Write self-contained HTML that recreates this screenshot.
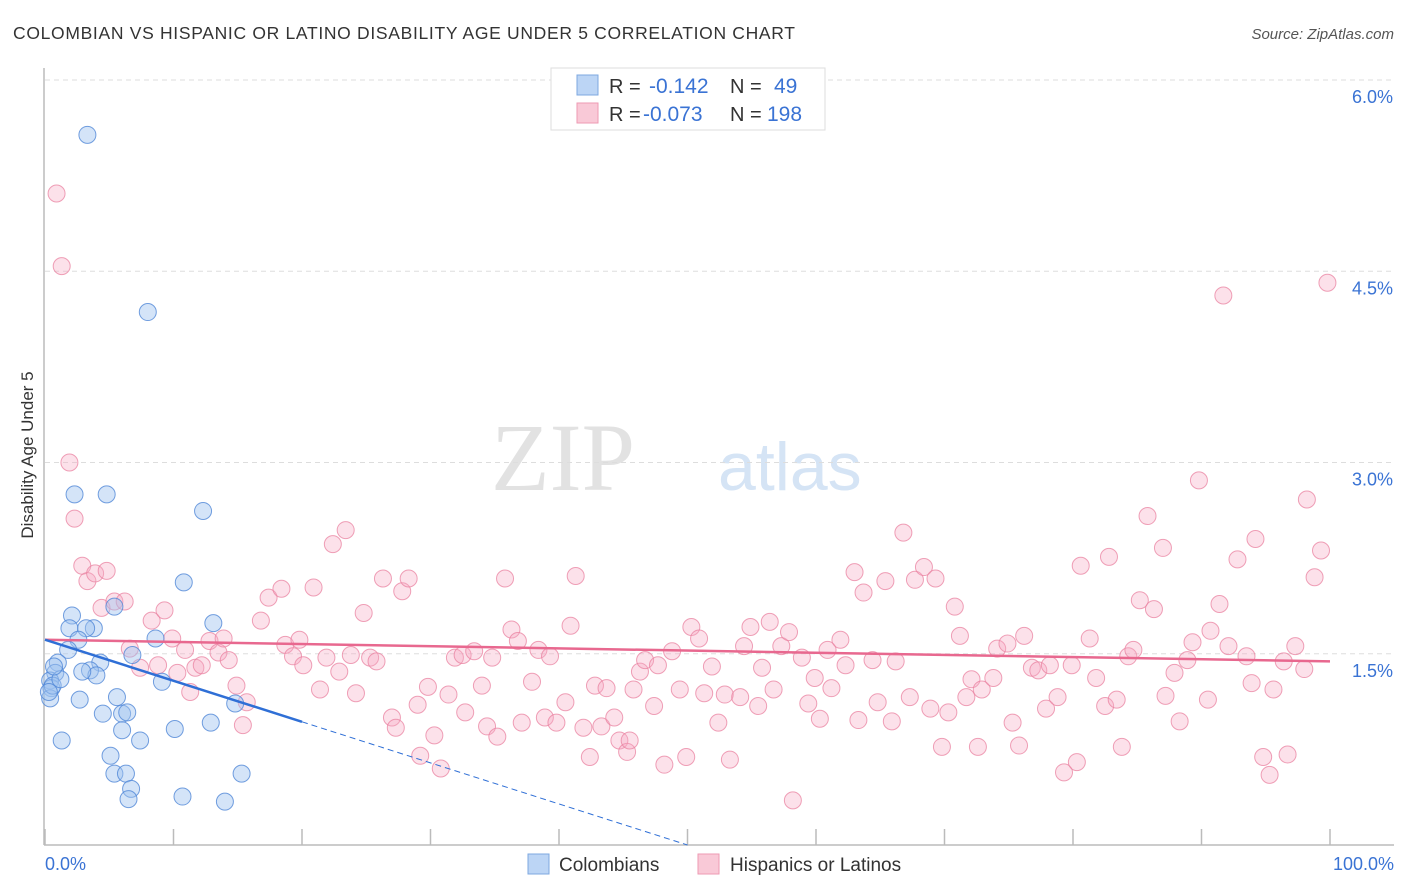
<!DOCTYPE html>
<html><head><meta charset="utf-8"><style>
body{margin:0;background:#fff;font-family:"Liberation Sans",sans-serif;}
svg{display:block}
</style></head><body>
<svg id="chart" width="1406" height="892" xmlns="http://www.w3.org/2000/svg" font-family="Liberation Sans, sans-serif">
<text x="13" y="39" font-size="17.5" fill="#333" textLength="782">COLOMBIAN VS HISPANIC OR LATINO DISABILITY AGE UNDER 5 CORRELATION CHART</text>
<text x="1394" y="39" font-size="15" fill="#555" font-style="italic" text-anchor="end">Source: ZipAtlas.com</text>
<g>
<text x="635" y="490" font-size="96" font-family="Liberation Serif, serif" fill="#e2e2e2" text-anchor="end">ZIP</text>
<text x="718" y="490" font-size="68" fill="#d5e4f5">atlas</text>
</g>
<g id="grid"></g>
<g id="axes"></g>
<g id="pink"></g>
<g id="blue"></g>
<g id="trends"></g>
<text transform="translate(33,455) rotate(-90)" font-size="17" fill="#333" text-anchor="middle">Disability Age Under 5</text>
<g>
<rect x="551" y="68" width="274" height="62" fill="#fff" stroke="#ddd"/>
<rect x="577" y="75" width="21" height="20" fill="#bcd5f5" stroke="#7ea8e0"/>
<rect x="577" y="103" width="21" height="20" fill="#f9c9d7" stroke="#ee9ab3"/>
<text x="609" y="93" font-size="20" fill="#333">R = </text><text x="649" y="93" font-size="21" fill="#3a73d4">-0.142</text>
<text x="730" y="93" font-size="20" fill="#333">N = </text><text x="774" y="93" font-size="21" fill="#3a73d4">49</text>
<text x="609" y="121" font-size="20" fill="#333">R = </text><text x="643" y="121" font-size="21" fill="#3a73d4">-0.073</text>
<text x="730" y="121" font-size="20" fill="#333">N = </text><text x="767" y="121" font-size="21" fill="#3a73d4">198</text>
</g>
<g>
<rect x="528" y="854" width="21" height="20" fill="#bcd5f5" stroke="#7ea8e0"/>
<text x="559" y="871" font-size="19" fill="#333">Colombians</text>
<rect x="698" y="854" width="21" height="20" fill="#f9c9d7" stroke="#ee9ab3"/>
<text x="730" y="871" font-size="19" fill="#333">Hispanics or Latinos</text>
</g>
</svg>
<script>
const yTicks=[1.5,3.0,4.5,6.0];
const yTickLabels=["1.5%","3.0%","4.5%","6.0%"];
const xTickLabels=["0.0%","100.0%"];
const blueX=[3.3,8.0,2.3,4.8,12.3,10.8,2.1,5.4,3.8,13.1,1.9,3.2,8.6,2.6,1.8,6.8,1.0,4.3,0.8,3.5,4.0,2.9,9.1,0.4,0.5,0.4,2.7,5.6,14.8,4.5,6.0,6.4,6.0,10.1,12.9,1.3,7.4,5.1,5.4,6.3,15.3,6.7,6.5,10.7,14.0,0.6,1.2,0.3,0.7];
const blueY=[5.57,4.18,2.75,2.75,2.62,2.06,1.80,1.87,1.70,1.74,1.70,1.70,1.62,1.61,1.53,1.49,1.43,1.43,1.35,1.37,1.33,1.36,1.28,1.29,1.23,1.15,1.14,1.16,1.11,1.03,1.03,1.04,0.90,0.91,0.96,0.82,0.82,0.70,0.56,0.56,0.56,0.44,0.36,0.38,0.34,1.25,1.30,1.20,1.40];
const pinkX=[0.9,1.3,1.9,2.3,2.9,3.3,3.9,4.8,4.4,5.4,6.2,6.6,8.3,9.3,9.9,7.4,8.8,10.3,10.9,11.7,11.3,12.2,12.8,13.5,13.9,14.3,14.9,15.4,15.7,16.8,17.4,18.4,18.7,19.3,19.8,20.1,20.9,21.4,21.9,22.4,23.4,22.9,23.8,24.2,24.8,25.3,25.8,26.3,27.0,27.3,27.8,28.3,29.0,29.2,29.8,30.3,30.8,31.4,31.9,32.5,32.7,33.4,34.0,34.4,34.8,35.2,35.8,36.3,36.8,37.1,37.9,38.4,38.9,39.3,39.8,40.5,40.9,41.3,41.9,42.4,42.8,43.3,43.7,44.3,44.7,45.3,45.5,45.8,46.3,46.7,47.4,47.7,48.2,48.8,49.4,49.9,50.3,50.9,51.3,51.9,52.4,52.9,53.3,54.1,54.4,54.9,55.5,55.8,56.4,56.7,57.3,57.9,58.2,58.9,59.4,59.9,60.3,60.9,61.2,61.9,62.3,63.0,63.3,63.7,64.4,64.8,65.4,65.9,66.2,66.8,67.3,67.7,68.4,68.9,69.3,69.8,70.3,70.8,71.2,71.7,72.1,72.6,72.9,73.8,74.1,74.9,75.3,75.8,76.2,76.8,77.3,77.9,78.2,78.8,79.3,79.9,80.3,80.6,81.3,81.8,82.5,82.8,83.4,83.8,84.3,84.7,85.2,85.8,86.3,87.0,87.2,87.9,88.3,88.9,89.3,89.8,90.5,90.7,91.4,91.7,92.1,92.8,93.5,93.9,94.2,94.8,95.3,95.6,96.7,96.4,97.3,98.0,98.2,98.8,99.3,99.8];
const pinkY=[5.11,4.54,3.0,2.56,2.19,2.07,2.13,2.15,1.86,1.91,1.91,1.54,1.76,1.84,1.62,1.39,1.41,1.35,1.53,1.39,1.2,1.41,1.6,1.51,1.62,1.45,1.25,0.94,1.12,1.76,1.94,2.01,1.57,1.48,1.61,1.41,2.02,1.22,1.47,2.36,2.47,1.36,1.49,1.19,1.82,1.47,1.44,2.09,1.0,0.92,1.99,2.09,1.1,0.7,1.24,0.86,0.6,1.18,1.47,1.49,1.04,1.52,1.25,0.93,1.47,0.85,2.09,1.69,1.6,0.96,1.28,1.53,1.0,1.48,0.96,1.12,1.72,2.11,0.92,0.69,1.25,0.93,1.23,1.0,0.82,0.73,0.82,1.22,1.36,1.45,1.09,1.41,0.63,1.52,1.22,0.69,1.71,1.62,1.19,1.4,0.96,1.18,0.67,1.16,1.56,1.71,1.09,1.39,1.75,1.22,1.56,1.67,0.35,1.47,1.11,1.31,0.99,1.53,1.23,1.61,1.41,2.14,0.98,1.98,1.45,1.12,2.07,0.97,1.44,2.45,1.16,2.08,2.18,1.07,2.09,0.77,1.04,1.87,1.64,1.16,1.3,0.77,1.22,1.31,1.54,1.58,0.96,0.78,1.64,1.39,1.37,1.07,1.41,1.16,0.57,1.41,0.65,2.19,1.62,1.31,1.09,2.26,1.14,0.77,1.48,1.53,1.92,2.58,1.85,2.33,1.17,1.35,0.97,1.45,1.59,2.86,1.14,1.68,1.89,4.31,1.56,2.24,1.48,1.27,2.4,0.69,0.55,1.22,0.71,1.44,1.56,1.38,2.71,2.1,2.31,4.41];
const blueTrend=[1.61,-0.0322];
const pinkTrend=[1.61,-0.0017];
const NS="http://www.w3.org/2000/svg";
const X=v=>45+v*12.85;
const Y=v=>845-v*127.5;
function mk(p,t,a){const e=document.createElementNS(NS,t);for(const k in a)e.setAttribute(k,a[k]);p.appendChild(e);return e;}
const grid=document.getElementById('grid');
yTicks.forEach((t,i)=>{
 const l=mk(grid,'line',{x1:45,x2:1394,y1:Y(t),y2:Y(t),stroke:'#ddd','stroke-dasharray':'5,4'});
 
 
 const tx=mk(grid,'text',{x:1393,y:Y(t)+23,'font-size':18,fill:'#3a73d4','text-anchor':'end'});
 tx.textContent=yTickLabels[i];
 
 
});
const axes=document.getElementById('axes');
mk(axes,'line',{x1:44,x2:44,y1:68,y2:845,stroke:'#bbb','stroke-width':1.5});
mk(axes,'line',{x1:44,x2:1394,y1:845,y2:845,stroke:'#bbb','stroke-width':1.5});
for(let i=0;i<=10;i++){mk(axes,'line',{x1:X(i*10),x2:X(i*10),y1:829,y2:845,stroke:'#bbb','stroke-width':1.5});}
[[0,'start',45],[100,'end',1394]].forEach((d,i)=>{
 const tx=mk(axes,'text',{x:d[2],y:870,'font-size':18,fill:'#3a73d4','text-anchor':d[1]});
 tx.textContent=xTickLabels[i];
 
 
});
const pink=document.getElementById('pink');
pinkX.forEach((x,i)=>{
 const c=mk(pink,'circle',{cx:X(x),cy:Y(pinkY[i]),r:8.5,fill:'rgba(246,170,194,0.35)',stroke:'rgba(234,130,160,0.75)','stroke-width':1});
 
 
});
const blue=document.getElementById('blue');
blueX.forEach((x,i)=>{
 const c=mk(blue,'circle',{cx:X(x),cy:Y(blueY[i]),r:8.5,fill:'rgba(160,196,240,0.45)',stroke:'rgba(80,135,215,0.8)','stroke-width':1});
 
 
});
const tr=document.getElementById('trends');
const pl=mk(tr,'line',{x1:X(0),y1:Y(pinkTrend[0]),x2:X(100),y2:Y(pinkTrend[0]+pinkTrend[1]*100),stroke:'#e8688f','stroke-width':2.5});


const bl=mk(tr,'line',{x1:X(0),y1:Y(blueTrend[0]),x2:X(20),y2:Y(blueTrend[0]+blueTrend[1]*20),stroke:'#2f6fd6','stroke-width':2.5});


const xe=-blueTrend[0]/blueTrend[1];
const bd=mk(tr,'line',{x1:X(20),y1:Y(blueTrend[0]+blueTrend[1]*20),x2:X(xe),y2:Y(0),stroke:'#2f6fd6','stroke-width':1,'stroke-dasharray':'6,4'});


</script>
</body></html>
